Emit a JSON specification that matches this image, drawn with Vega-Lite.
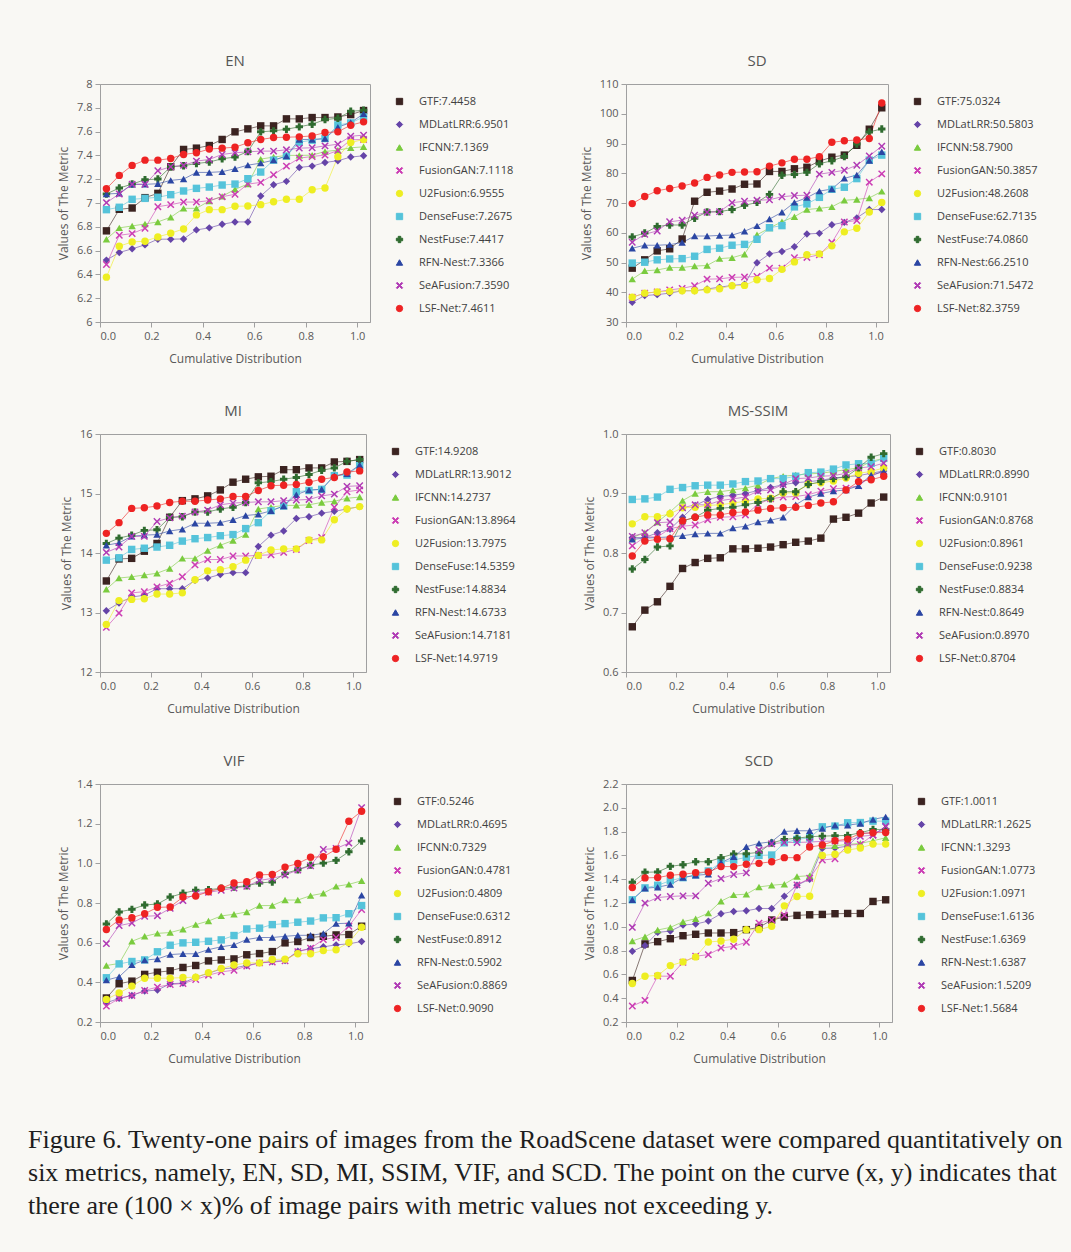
{
"$schema":"https://vega.github.io/schema/vega-lite/v6.json",
"background":"#f9f8f4",
"padding":{"left":28,"top":53,"right":15,"bottom":49},
"datasets":{
"EN":[
{"s":"GTF","x":0.025,"y":6.766},{"s":"GTF","x":0.075,"y":6.947},{"s":"GTF","x":0.125,"y":6.958},{"s":"GTF","x":0.175,"y":7.045},{"s":"GTF","x":0.225,"y":7.081},{"s":"GTF","x":0.275,"y":7.305},{"s":"GTF","x":0.325,"y":7.45},{"s":"GTF","x":0.375,"y":7.461},{"s":"GTF","x":0.425,"y":7.483},{"s":"GTF","x":0.475,"y":7.534},{"s":"GTF","x":0.525,"y":7.598},{"s":"GTF","x":0.575,"y":7.623},{"s":"GTF","x":0.625,"y":7.648},{"s":"GTF","x":0.675,"y":7.648},{"s":"GTF","x":0.725,"y":7.707},{"s":"GTF","x":0.775,"y":7.707},{"s":"GTF","x":0.825,"y":7.718},{"s":"GTF","x":0.875,"y":7.718},{"s":"GTF","x":0.925,"y":7.723},{"s":"GTF","x":0.975,"y":7.743},{"s":"GTF","x":1.025,"y":7.777},
{"s":"MDLatLRR","x":0.025,"y":6.52},{"s":"MDLatLRR","x":0.075,"y":6.584},{"s":"MDLatLRR","x":0.125,"y":6.615},{"s":"MDLatLRR","x":0.175,"y":6.648},{"s":"MDLatLRR","x":0.225,"y":6.696},{"s":"MDLatLRR","x":0.275,"y":6.696},{"s":"MDLatLRR","x":0.325,"y":6.698},{"s":"MDLatLRR","x":0.375,"y":6.774},{"s":"MDLatLRR","x":0.425,"y":6.791},{"s":"MDLatLRR","x":0.475,"y":6.821},{"s":"MDLatLRR","x":0.525,"y":6.841},{"s":"MDLatLRR","x":0.575,"y":6.841},{"s":"MDLatLRR","x":0.625,"y":7.059},{"s":"MDLatLRR","x":0.675,"y":7.154},{"s":"MDLatLRR","x":0.725,"y":7.182},{"s":"MDLatLRR","x":0.775,"y":7.299},{"s":"MDLatLRR","x":0.825,"y":7.31},{"s":"MDLatLRR","x":0.875,"y":7.341},{"s":"MDLatLRR","x":0.925,"y":7.355},{"s":"MDLatLRR","x":0.975,"y":7.386},{"s":"MDLatLRR","x":1.025,"y":7.397},
{"s":"IFCNN","x":0.025,"y":6.696},{"s":"IFCNN","x":0.075,"y":6.791},{"s":"IFCNN","x":0.125,"y":6.807},{"s":"IFCNN","x":0.175,"y":6.824},{"s":"IFCNN","x":0.225,"y":6.841},{"s":"IFCNN","x":0.275,"y":6.88},{"s":"IFCNN","x":0.325,"y":6.955},{"s":"IFCNN","x":0.375,"y":6.955},{"s":"IFCNN","x":0.425,"y":7.017},{"s":"IFCNN","x":0.475,"y":7.056},{"s":"IFCNN","x":0.525,"y":7.115},{"s":"IFCNN","x":0.575,"y":7.159},{"s":"IFCNN","x":0.625,"y":7.369},{"s":"IFCNN","x":0.675,"y":7.386},{"s":"IFCNN","x":0.725,"y":7.4},{"s":"IFCNN","x":0.775,"y":7.4},{"s":"IFCNN","x":0.825,"y":7.402},{"s":"IFCNN","x":0.875,"y":7.433},{"s":"IFCNN","x":0.925,"y":7.444},{"s":"IFCNN","x":0.975,"y":7.464},{"s":"IFCNN","x":1.025,"y":7.472},
{"s":"FusionGAN","x":0.025,"y":6.483},{"s":"FusionGAN","x":0.075,"y":6.729},{"s":"FusionGAN","x":0.125,"y":6.743},{"s":"FusionGAN","x":0.175,"y":6.788},{"s":"FusionGAN","x":0.225,"y":6.969},{"s":"FusionGAN","x":0.275,"y":6.986},{"s":"FusionGAN","x":0.325,"y":7.008},{"s":"FusionGAN","x":0.375,"y":7.008},{"s":"FusionGAN","x":0.425,"y":7.02},{"s":"FusionGAN","x":0.475,"y":7.053},{"s":"FusionGAN","x":0.525,"y":7.073},{"s":"FusionGAN","x":0.575,"y":7.159},{"s":"FusionGAN","x":0.625,"y":7.173},{"s":"FusionGAN","x":0.675,"y":7.238},{"s":"FusionGAN","x":0.725,"y":7.31},{"s":"FusionGAN","x":0.775,"y":7.377},{"s":"FusionGAN","x":0.825,"y":7.391},{"s":"FusionGAN","x":0.875,"y":7.402},{"s":"FusionGAN","x":0.925,"y":7.441},{"s":"FusionGAN","x":0.975,"y":7.531},{"s":"FusionGAN","x":1.025,"y":7.534},
{"s":"U2Fusion","x":0.025,"y":6.377},{"s":"U2Fusion","x":0.075,"y":6.637},{"s":"U2Fusion","x":0.125,"y":6.673},{"s":"U2Fusion","x":0.175,"y":6.679},{"s":"U2Fusion","x":0.225,"y":6.715},{"s":"U2Fusion","x":0.275,"y":6.746},{"s":"U2Fusion","x":0.325,"y":6.782},{"s":"U2Fusion","x":0.375,"y":6.9},{"s":"U2Fusion","x":0.425,"y":6.944},{"s":"U2Fusion","x":0.475,"y":6.944},{"s":"U2Fusion","x":0.525,"y":6.972},{"s":"U2Fusion","x":0.575,"y":6.975},{"s":"U2Fusion","x":0.625,"y":6.986},{"s":"U2Fusion","x":0.675,"y":7.011},{"s":"U2Fusion","x":0.725,"y":7.031},{"s":"U2Fusion","x":0.775,"y":7.031},{"s":"U2Fusion","x":0.825,"y":7.112},{"s":"U2Fusion","x":0.875,"y":7.126},{"s":"U2Fusion","x":0.925,"y":7.388},{"s":"U2Fusion","x":0.975,"y":7.508},{"s":"U2Fusion","x":1.025,"y":7.534},
{"s":"DenseFuse","x":0.025,"y":6.944},{"s":"DenseFuse","x":0.075,"y":6.964},{"s":"DenseFuse","x":0.125,"y":7.031},{"s":"DenseFuse","x":0.175,"y":7.039},{"s":"DenseFuse","x":0.225,"y":7.048},{"s":"DenseFuse","x":0.275,"y":7.07},{"s":"DenseFuse","x":0.325,"y":7.101},{"s":"DenseFuse","x":0.375,"y":7.123},{"s":"DenseFuse","x":0.425,"y":7.134},{"s":"DenseFuse","x":0.475,"y":7.151},{"s":"DenseFuse","x":0.525,"y":7.159},{"s":"DenseFuse","x":0.575,"y":7.204},{"s":"DenseFuse","x":0.625,"y":7.26},{"s":"DenseFuse","x":0.675,"y":7.36},{"s":"DenseFuse","x":0.725,"y":7.394},{"s":"DenseFuse","x":0.775,"y":7.511},{"s":"DenseFuse","x":0.825,"y":7.528},{"s":"DenseFuse","x":0.875,"y":7.542},{"s":"DenseFuse","x":0.925,"y":7.656},{"s":"DenseFuse","x":0.975,"y":7.673},{"s":"DenseFuse","x":1.025,"y":7.723},
{"s":"NestFuse","x":0.025,"y":7.076},{"s":"NestFuse","x":0.075,"y":7.126},{"s":"NestFuse","x":0.125,"y":7.159},{"s":"NestFuse","x":0.175,"y":7.196},{"s":"NestFuse","x":0.225,"y":7.201},{"s":"NestFuse","x":0.275,"y":7.305},{"s":"NestFuse","x":0.325,"y":7.313},{"s":"NestFuse","x":0.375,"y":7.332},{"s":"NestFuse","x":0.425,"y":7.344},{"s":"NestFuse","x":0.475,"y":7.372},{"s":"NestFuse","x":0.525,"y":7.386},{"s":"NestFuse","x":0.575,"y":7.433},{"s":"NestFuse","x":0.625,"y":7.598},{"s":"NestFuse","x":0.675,"y":7.606},{"s":"NestFuse","x":0.725,"y":7.62},{"s":"NestFuse","x":0.775,"y":7.64},{"s":"NestFuse","x":0.825,"y":7.662},{"s":"NestFuse","x":0.875,"y":7.701},{"s":"NestFuse","x":0.925,"y":7.712},{"s":"NestFuse","x":0.975,"y":7.771},{"s":"NestFuse","x":1.025,"y":7.779},
{"s":"RFN-Nest","x":0.025,"y":7.076},{"s":"RFN-Nest","x":0.075,"y":7.081},{"s":"RFN-Nest","x":0.125,"y":7.157},{"s":"RFN-Nest","x":0.175,"y":7.157},{"s":"RFN-Nest","x":0.225,"y":7.162},{"s":"RFN-Nest","x":0.275,"y":7.19},{"s":"RFN-Nest","x":0.325,"y":7.201},{"s":"RFN-Nest","x":0.375,"y":7.257},{"s":"RFN-Nest","x":0.425,"y":7.257},{"s":"RFN-Nest","x":0.475,"y":7.263},{"s":"RFN-Nest","x":0.525,"y":7.288},{"s":"RFN-Nest","x":0.575,"y":7.318},{"s":"RFN-Nest","x":0.625,"y":7.335},{"s":"RFN-Nest","x":0.675,"y":7.36},{"s":"RFN-Nest","x":0.725,"y":7.394},{"s":"RFN-Nest","x":0.775,"y":7.534},{"s":"RFN-Nest","x":0.825,"y":7.534},{"s":"RFN-Nest","x":0.875,"y":7.542},{"s":"RFN-Nest","x":0.925,"y":7.637},{"s":"RFN-Nest","x":0.975,"y":7.676},{"s":"RFN-Nest","x":1.025,"y":7.749},
{"s":"SeAFusion","x":0.025,"y":7.003},{"s":"SeAFusion","x":0.075,"y":7.076},{"s":"SeAFusion","x":0.125,"y":7.157},{"s":"SeAFusion","x":0.175,"y":7.157},{"s":"SeAFusion","x":0.225,"y":7.271},{"s":"SeAFusion","x":0.275,"y":7.305},{"s":"SeAFusion","x":0.325,"y":7.316},{"s":"SeAFusion","x":0.375,"y":7.352},{"s":"SeAFusion","x":0.425,"y":7.366},{"s":"SeAFusion","x":0.475,"y":7.408},{"s":"SeAFusion","x":0.525,"y":7.422},{"s":"SeAFusion","x":0.575,"y":7.43},{"s":"SeAFusion","x":0.625,"y":7.436},{"s":"SeAFusion","x":0.675,"y":7.436},{"s":"SeAFusion","x":0.725,"y":7.447},{"s":"SeAFusion","x":0.775,"y":7.461},{"s":"SeAFusion","x":0.825,"y":7.464},{"s":"SeAFusion","x":0.875,"y":7.48},{"s":"SeAFusion","x":0.925,"y":7.494},{"s":"SeAFusion","x":0.975,"y":7.561},{"s":"SeAFusion","x":1.025,"y":7.57},
{"s":"LSF-Net","x":0.025,"y":7.12},{"s":"LSF-Net","x":0.075,"y":7.232},{"s":"LSF-Net","x":0.125,"y":7.316},{"s":"LSF-Net","x":0.175,"y":7.36},{"s":"LSF-Net","x":0.225,"y":7.36},{"s":"LSF-Net","x":0.275,"y":7.374},{"s":"LSF-Net","x":0.325,"y":7.408},{"s":"LSF-Net","x":0.375,"y":7.422},{"s":"LSF-Net","x":0.425,"y":7.453},{"s":"LSF-Net","x":0.475,"y":7.461},{"s":"LSF-Net","x":0.525,"y":7.469},{"s":"LSF-Net","x":0.575,"y":7.506},{"s":"LSF-Net","x":0.625,"y":7.534},{"s":"LSF-Net","x":0.675,"y":7.55},{"s":"LSF-Net","x":0.725,"y":7.553},{"s":"LSF-Net","x":0.775,"y":7.556},{"s":"LSF-Net","x":0.825,"y":7.564},{"s":"LSF-Net","x":0.875,"y":7.592},{"s":"LSF-Net","x":0.925,"y":7.598},{"s":"LSF-Net","x":0.975,"y":7.654},{"s":"LSF-Net","x":1.025,"y":7.682}
],
"SD":[
{"s":"GTF","x":0.025,"y":48.1},{"s":"GTF","x":0.075,"y":50.9},{"s":"GTF","x":0.125,"y":53.9},{"s":"GTF","x":0.175,"y":54.6},{"s":"GTF","x":0.225,"y":57.9},{"s":"GTF","x":0.275,"y":70.6},{"s":"GTF","x":0.325,"y":73.6},{"s":"GTF","x":0.375,"y":74.0},{"s":"GTF","x":0.425,"y":74.7},{"s":"GTF","x":0.475,"y":76.3},{"s":"GTF","x":0.525,"y":76.4},{"s":"GTF","x":0.575,"y":80.6},{"s":"GTF","x":0.625,"y":80.6},{"s":"GTF","x":0.675,"y":81.5},{"s":"GTF","x":0.725,"y":82.0},{"s":"GTF","x":0.775,"y":84.1},{"s":"GTF","x":0.825,"y":85.4},{"s":"GTF","x":0.875,"y":86.1},{"s":"GTF","x":0.925,"y":89.4},{"s":"GTF","x":0.975,"y":94.8},{"s":"GTF","x":1.025,"y":102.0},
{"s":"MDLatLRR","x":0.025,"y":36.6},{"s":"MDLatLRR","x":0.075,"y":38.9},{"s":"MDLatLRR","x":0.125,"y":39.2},{"s":"MDLatLRR","x":0.175,"y":39.7},{"s":"MDLatLRR","x":0.225,"y":40.5},{"s":"MDLatLRR","x":0.275,"y":40.5},{"s":"MDLatLRR","x":0.325,"y":41.1},{"s":"MDLatLRR","x":0.375,"y":41.7},{"s":"MDLatLRR","x":0.425,"y":42.3},{"s":"MDLatLRR","x":0.475,"y":42.7},{"s":"MDLatLRR","x":0.525,"y":49.9},{"s":"MDLatLRR","x":0.575,"y":52.9},{"s":"MDLatLRR","x":0.625,"y":53.7},{"s":"MDLatLRR","x":0.675,"y":55.3},{"s":"MDLatLRR","x":0.725,"y":59.6},{"s":"MDLatLRR","x":0.775,"y":59.8},{"s":"MDLatLRR","x":0.825,"y":62.7},{"s":"MDLatLRR","x":0.875,"y":63.5},{"s":"MDLatLRR","x":0.925,"y":65.0},{"s":"MDLatLRR","x":0.975,"y":67.8},{"s":"MDLatLRR","x":1.025,"y":67.8},
{"s":"IFCNN","x":0.025,"y":44.4},{"s":"IFCNN","x":0.075,"y":47.2},{"s":"IFCNN","x":0.125,"y":47.5},{"s":"IFCNN","x":0.175,"y":48.3},{"s":"IFCNN","x":0.225,"y":48.3},{"s":"IFCNN","x":0.275,"y":48.8},{"s":"IFCNN","x":0.325,"y":49.0},{"s":"IFCNN","x":0.375,"y":51.3},{"s":"IFCNN","x":0.425,"y":51.6},{"s":"IFCNN","x":0.475,"y":52.8},{"s":"IFCNN","x":0.525,"y":59.3},{"s":"IFCNN","x":0.575,"y":61.6},{"s":"IFCNN","x":0.625,"y":63.7},{"s":"IFCNN","x":0.675,"y":65.4},{"s":"IFCNN","x":0.725,"y":67.8},{"s":"IFCNN","x":0.775,"y":68.2},{"s":"IFCNN","x":0.825,"y":68.7},{"s":"IFCNN","x":0.875,"y":70.9},{"s":"IFCNN","x":0.925,"y":71.2},{"s":"IFCNN","x":0.975,"y":71.7},{"s":"IFCNN","x":1.025,"y":73.9},
{"s":"FusionGAN","x":0.025,"y":38.3},{"s":"FusionGAN","x":0.075,"y":39.7},{"s":"FusionGAN","x":0.125,"y":40.1},{"s":"FusionGAN","x":0.175,"y":40.8},{"s":"FusionGAN","x":0.225,"y":41.3},{"s":"FusionGAN","x":0.275,"y":42.2},{"s":"FusionGAN","x":0.325,"y":44.4},{"s":"FusionGAN","x":0.375,"y":44.5},{"s":"FusionGAN","x":0.425,"y":45.0},{"s":"FusionGAN","x":0.475,"y":45.1},{"s":"FusionGAN","x":0.525,"y":45.3},{"s":"FusionGAN","x":0.575,"y":48.1},{"s":"FusionGAN","x":0.625,"y":48.1},{"s":"FusionGAN","x":0.675,"y":51.6},{"s":"FusionGAN","x":0.725,"y":51.7},{"s":"FusionGAN","x":0.775,"y":52.6},{"s":"FusionGAN","x":0.825,"y":56.7},{"s":"FusionGAN","x":0.875,"y":63.6},{"s":"FusionGAN","x":0.925,"y":64.1},{"s":"FusionGAN","x":0.975,"y":77.0},{"s":"FusionGAN","x":1.025,"y":79.8},
{"s":"U2Fusion","x":0.025,"y":38.3},{"s":"U2Fusion","x":0.075,"y":39.7},{"s":"U2Fusion","x":0.125,"y":40.1},{"s":"U2Fusion","x":0.175,"y":40.3},{"s":"U2Fusion","x":0.225,"y":40.5},{"s":"U2Fusion","x":0.275,"y":40.5},{"s":"U2Fusion","x":0.325,"y":40.8},{"s":"U2Fusion","x":0.375,"y":41.2},{"s":"U2Fusion","x":0.425,"y":42.2},{"s":"U2Fusion","x":0.475,"y":42.3},{"s":"U2Fusion","x":0.525,"y":44.2},{"s":"U2Fusion","x":0.575,"y":44.6},{"s":"U2Fusion","x":0.625,"y":47.7},{"s":"U2Fusion","x":0.675,"y":50.2},{"s":"U2Fusion","x":0.725,"y":52.6},{"s":"U2Fusion","x":0.775,"y":52.9},{"s":"U2Fusion","x":0.825,"y":55.6},{"s":"U2Fusion","x":0.875,"y":60.3},{"s":"U2Fusion","x":0.925,"y":61.5},{"s":"U2Fusion","x":0.975,"y":67.0},{"s":"U2Fusion","x":1.025,"y":70.2},
{"s":"DenseFuse","x":0.025,"y":49.8},{"s":"DenseFuse","x":0.075,"y":50.1},{"s":"DenseFuse","x":0.125,"y":50.9},{"s":"DenseFuse","x":0.175,"y":51.2},{"s":"DenseFuse","x":0.225,"y":51.3},{"s":"DenseFuse","x":0.275,"y":52.1},{"s":"DenseFuse","x":0.325,"y":54.4},{"s":"DenseFuse","x":0.375,"y":54.8},{"s":"DenseFuse","x":0.425,"y":55.8},{"s":"DenseFuse","x":0.475,"y":56.1},{"s":"DenseFuse","x":0.525,"y":57.8},{"s":"DenseFuse","x":0.575,"y":61.7},{"s":"DenseFuse","x":0.625,"y":62.4},{"s":"DenseFuse","x":0.675,"y":68.7},{"s":"DenseFuse","x":0.725,"y":69.7},{"s":"DenseFuse","x":0.775,"y":71.9},{"s":"DenseFuse","x":0.825,"y":74.6},{"s":"DenseFuse","x":0.875,"y":75.3},{"s":"DenseFuse","x":0.925,"y":78.2},{"s":"DenseFuse","x":0.975,"y":84.4},{"s":"DenseFuse","x":1.025,"y":86.1},
{"s":"NestFuse","x":0.025,"y":58.6},{"s":"NestFuse","x":0.075,"y":59.9},{"s":"NestFuse","x":0.125,"y":62.1},{"s":"NestFuse","x":0.175,"y":62.6},{"s":"NestFuse","x":0.225,"y":62.6},{"s":"NestFuse","x":0.275,"y":64.9},{"s":"NestFuse","x":0.325,"y":67.0},{"s":"NestFuse","x":0.375,"y":67.1},{"s":"NestFuse","x":0.425,"y":67.8},{"s":"NestFuse","x":0.475,"y":69.2},{"s":"NestFuse","x":0.525,"y":70.2},{"s":"NestFuse","x":0.575,"y":72.9},{"s":"NestFuse","x":0.625,"y":79.3},{"s":"NestFuse","x":0.675,"y":79.6},{"s":"NestFuse","x":0.725,"y":80.3},{"s":"NestFuse","x":0.775,"y":83.2},{"s":"NestFuse","x":0.825,"y":84.2},{"s":"NestFuse","x":0.875,"y":85.6},{"s":"NestFuse","x":0.925,"y":89.8},{"s":"NestFuse","x":0.975,"y":93.9},{"s":"NestFuse","x":1.025,"y":94.9},
{"s":"RFN-Nest","x":0.025,"y":54.8},{"s":"RFN-Nest","x":0.075,"y":55.8},{"s":"RFN-Nest","x":0.125,"y":55.8},{"s":"RFN-Nest","x":0.175,"y":56.0},{"s":"RFN-Nest","x":0.225,"y":56.7},{"s":"RFN-Nest","x":0.275,"y":58.9},{"s":"RFN-Nest","x":0.325,"y":58.9},{"s":"RFN-Nest","x":0.375,"y":59.1},{"s":"RFN-Nest","x":0.425,"y":59.2},{"s":"RFN-Nest","x":0.475,"y":60.5},{"s":"RFN-Nest","x":0.525,"y":62.3},{"s":"RFN-Nest","x":0.575,"y":64.6},{"s":"RFN-Nest","x":0.625,"y":66.9},{"s":"RFN-Nest","x":0.675,"y":70.2},{"s":"RFN-Nest","x":0.725,"y":71.8},{"s":"RFN-Nest","x":0.775,"y":74.0},{"s":"RFN-Nest","x":0.825,"y":74.7},{"s":"RFN-Nest","x":0.875,"y":78.3},{"s":"RFN-Nest","x":0.925,"y":79.4},{"s":"RFN-Nest","x":0.975,"y":84.3},{"s":"RFN-Nest","x":1.025,"y":87.2},
{"s":"SeAFusion","x":0.025,"y":56.8},{"s":"SeAFusion","x":0.075,"y":59.5},{"s":"SeAFusion","x":0.125,"y":60.6},{"s":"SeAFusion","x":0.175,"y":63.7},{"s":"SeAFusion","x":0.225,"y":64.2},{"s":"SeAFusion","x":0.275,"y":65.9},{"s":"SeAFusion","x":0.325,"y":66.9},{"s":"SeAFusion","x":0.375,"y":67.1},{"s":"SeAFusion","x":0.425,"y":70.1},{"s":"SeAFusion","x":0.475,"y":70.6},{"s":"SeAFusion","x":0.525,"y":70.9},{"s":"SeAFusion","x":0.575,"y":71.1},{"s":"SeAFusion","x":0.625,"y":72.1},{"s":"SeAFusion","x":0.675,"y":72.5},{"s":"SeAFusion","x":0.725,"y":72.6},{"s":"SeAFusion","x":0.775,"y":79.7},{"s":"SeAFusion","x":0.825,"y":80.3},{"s":"SeAFusion","x":0.875,"y":81.0},{"s":"SeAFusion","x":0.925,"y":82.7},{"s":"SeAFusion","x":0.975,"y":85.8},{"s":"SeAFusion","x":1.025,"y":89.1},
{"s":"LSF-Net","x":0.025,"y":69.8},{"s":"LSF-Net","x":0.075,"y":72.2},{"s":"LSF-Net","x":0.125,"y":74.1},{"s":"LSF-Net","x":0.175,"y":74.9},{"s":"LSF-Net","x":0.225,"y":75.7},{"s":"LSF-Net","x":0.275,"y":76.7},{"s":"LSF-Net","x":0.325,"y":78.6},{"s":"LSF-Net","x":0.375,"y":79.4},{"s":"LSF-Net","x":0.425,"y":80.3},{"s":"LSF-Net","x":0.475,"y":80.4},{"s":"LSF-Net","x":0.525,"y":80.5},{"s":"LSF-Net","x":0.575,"y":82.4},{"s":"LSF-Net","x":0.625,"y":83.5},{"s":"LSF-Net","x":0.675,"y":84.7},{"s":"LSF-Net","x":0.725,"y":84.7},{"s":"LSF-Net","x":0.775,"y":85.6},{"s":"LSF-Net","x":0.825,"y":90.4},{"s":"LSF-Net","x":0.875,"y":90.9},{"s":"LSF-Net","x":0.925,"y":91.2},{"s":"LSF-Net","x":0.975,"y":91.7},{"s":"LSF-Net","x":1.025,"y":103.6}
],
"MI":[
{"s":"GTF","x":0.025,"y":13.53},{"s":"GTF","x":0.075,"y":13.9},{"s":"GTF","x":0.125,"y":13.91},{"s":"GTF","x":0.175,"y":14.03},{"s":"GTF","x":0.225,"y":14.16},{"s":"GTF","x":0.275,"y":14.6},{"s":"GTF","x":0.325,"y":14.88},{"s":"GTF","x":0.375,"y":14.91},{"s":"GTF","x":0.425,"y":14.96},{"s":"GTF","x":0.475,"y":15.06},{"s":"GTF","x":0.525,"y":15.19},{"s":"GTF","x":0.575,"y":15.24},{"s":"GTF","x":0.625,"y":15.28},{"s":"GTF","x":0.675,"y":15.29},{"s":"GTF","x":0.725,"y":15.4},{"s":"GTF","x":0.775,"y":15.4},{"s":"GTF","x":0.825,"y":15.43},{"s":"GTF","x":0.875,"y":15.43},{"s":"GTF","x":0.925,"y":15.53},{"s":"GTF","x":0.975,"y":15.54},{"s":"GTF","x":1.025,"y":15.57},
{"s":"MDLatLRR","x":0.025,"y":13.03},{"s":"MDLatLRR","x":0.075,"y":13.16},{"s":"MDLatLRR","x":0.125,"y":13.26},{"s":"MDLatLRR","x":0.175,"y":13.29},{"s":"MDLatLRR","x":0.225,"y":13.4},{"s":"MDLatLRR","x":0.275,"y":13.4},{"s":"MDLatLRR","x":0.325,"y":13.4},{"s":"MDLatLRR","x":0.375,"y":13.54},{"s":"MDLatLRR","x":0.425,"y":13.58},{"s":"MDLatLRR","x":0.475,"y":13.64},{"s":"MDLatLRR","x":0.525,"y":13.67},{"s":"MDLatLRR","x":0.575,"y":13.67},{"s":"MDLatLRR","x":0.625,"y":14.11},{"s":"MDLatLRR","x":0.675,"y":14.3},{"s":"MDLatLRR","x":0.725,"y":14.37},{"s":"MDLatLRR","x":0.775,"y":14.58},{"s":"MDLatLRR","x":0.825,"y":14.61},{"s":"MDLatLRR","x":0.875,"y":14.67},{"s":"MDLatLRR","x":0.925,"y":14.7},{"s":"MDLatLRR","x":0.975,"y":14.74},{"s":"MDLatLRR","x":1.025,"y":14.78},
{"s":"IFCNN","x":0.025,"y":13.39},{"s":"IFCNN","x":0.075,"y":13.58},{"s":"IFCNN","x":0.125,"y":13.6},{"s":"IFCNN","x":0.175,"y":13.63},{"s":"IFCNN","x":0.225,"y":13.66},{"s":"IFCNN","x":0.275,"y":13.74},{"s":"IFCNN","x":0.325,"y":13.91},{"s":"IFCNN","x":0.375,"y":13.91},{"s":"IFCNN","x":0.425,"y":14.04},{"s":"IFCNN","x":0.475,"y":14.13},{"s":"IFCNN","x":0.525,"y":14.21},{"s":"IFCNN","x":0.575,"y":14.31},{"s":"IFCNN","x":0.625,"y":14.74},{"s":"IFCNN","x":0.675,"y":14.77},{"s":"IFCNN","x":0.725,"y":14.8},{"s":"IFCNN","x":0.775,"y":14.8},{"s":"IFCNN","x":0.825,"y":14.81},{"s":"IFCNN","x":0.875,"y":14.85},{"s":"IFCNN","x":0.925,"y":14.87},{"s":"IFCNN","x":0.975,"y":14.92},{"s":"IFCNN","x":1.025,"y":14.94},
{"s":"FusionGAN","x":0.025,"y":12.75},{"s":"FusionGAN","x":0.075,"y":12.99},{"s":"FusionGAN","x":0.125,"y":13.33},{"s":"FusionGAN","x":0.175,"y":13.35},{"s":"FusionGAN","x":0.225,"y":13.43},{"s":"FusionGAN","x":0.275,"y":13.49},{"s":"FusionGAN","x":0.325,"y":13.6},{"s":"FusionGAN","x":0.375,"y":13.8},{"s":"FusionGAN","x":0.425,"y":13.89},{"s":"FusionGAN","x":0.475,"y":13.89},{"s":"FusionGAN","x":0.525,"y":13.95},{"s":"FusionGAN","x":0.575,"y":13.95},{"s":"FusionGAN","x":0.625,"y":13.96},{"s":"FusionGAN","x":0.675,"y":13.97},{"s":"FusionGAN","x":0.725,"y":14.01},{"s":"FusionGAN","x":0.775,"y":14.06},{"s":"FusionGAN","x":0.825,"y":14.21},{"s":"FusionGAN","x":0.875,"y":14.26},{"s":"FusionGAN","x":0.925,"y":14.77},{"s":"FusionGAN","x":0.975,"y":15.03},{"s":"FusionGAN","x":1.025,"y":15.06},
{"s":"U2Fusion","x":0.025,"y":12.8},{"s":"U2Fusion","x":0.075,"y":13.2},{"s":"U2Fusion","x":0.125,"y":13.22},{"s":"U2Fusion","x":0.175,"y":13.23},{"s":"U2Fusion","x":0.225,"y":13.31},{"s":"U2Fusion","x":0.275,"y":13.31},{"s":"U2Fusion","x":0.325,"y":13.33},{"s":"U2Fusion","x":0.375,"y":13.55},{"s":"U2Fusion","x":0.425,"y":13.7},{"s":"U2Fusion","x":0.475,"y":13.72},{"s":"U2Fusion","x":0.525,"y":13.77},{"s":"U2Fusion","x":0.575,"y":13.88},{"s":"U2Fusion","x":0.625,"y":13.96},{"s":"U2Fusion","x":0.675,"y":14.05},{"s":"U2Fusion","x":0.725,"y":14.07},{"s":"U2Fusion","x":0.775,"y":14.07},{"s":"U2Fusion","x":0.825,"y":14.22},{"s":"U2Fusion","x":0.875,"y":14.22},{"s":"U2Fusion","x":0.925,"y":14.56},{"s":"U2Fusion","x":0.975,"y":14.74},{"s":"U2Fusion","x":1.025,"y":14.78},
{"s":"DenseFuse","x":0.025,"y":13.88},{"s":"DenseFuse","x":0.075,"y":13.92},{"s":"DenseFuse","x":0.125,"y":14.06},{"s":"DenseFuse","x":0.175,"y":14.08},{"s":"DenseFuse","x":0.225,"y":14.1},{"s":"DenseFuse","x":0.275,"y":14.13},{"s":"DenseFuse","x":0.325,"y":14.2},{"s":"DenseFuse","x":0.375,"y":14.24},{"s":"DenseFuse","x":0.425,"y":14.26},{"s":"DenseFuse","x":0.475,"y":14.29},{"s":"DenseFuse","x":0.525,"y":14.31},{"s":"DenseFuse","x":0.575,"y":14.41},{"s":"DenseFuse","x":0.625,"y":14.51},{"s":"DenseFuse","x":0.675,"y":14.71},{"s":"DenseFuse","x":0.725,"y":14.79},{"s":"DenseFuse","x":0.775,"y":15.03},{"s":"DenseFuse","x":0.825,"y":15.05},{"s":"DenseFuse","x":0.875,"y":15.07},{"s":"DenseFuse","x":0.925,"y":15.3},{"s":"DenseFuse","x":0.975,"y":15.31},{"s":"DenseFuse","x":1.025,"y":15.47},
{"s":"NestFuse","x":0.025,"y":14.16},{"s":"NestFuse","x":0.075,"y":14.25},{"s":"NestFuse","x":0.125,"y":14.3},{"s":"NestFuse","x":0.175,"y":14.38},{"s":"NestFuse","x":0.225,"y":14.39},{"s":"NestFuse","x":0.275,"y":14.6},{"s":"NestFuse","x":0.325,"y":14.61},{"s":"NestFuse","x":0.375,"y":14.69},{"s":"NestFuse","x":0.425,"y":14.69},{"s":"NestFuse","x":0.475,"y":14.74},{"s":"NestFuse","x":0.525,"y":14.77},{"s":"NestFuse","x":0.575,"y":14.85},{"s":"NestFuse","x":0.625,"y":15.18},{"s":"NestFuse","x":0.675,"y":15.2},{"s":"NestFuse","x":0.725,"y":15.24},{"s":"NestFuse","x":0.775,"y":15.27},{"s":"NestFuse","x":0.825,"y":15.32},{"s":"NestFuse","x":0.875,"y":15.39},{"s":"NestFuse","x":0.925,"y":15.43},{"s":"NestFuse","x":0.975,"y":15.54},{"s":"NestFuse","x":1.025,"y":15.57},
{"s":"RFN-Nest","x":0.025,"y":14.13},{"s":"RFN-Nest","x":0.075,"y":14.17},{"s":"RFN-Nest","x":0.125,"y":14.28},{"s":"RFN-Nest","x":0.175,"y":14.3},{"s":"RFN-Nest","x":0.225,"y":14.31},{"s":"RFN-Nest","x":0.275,"y":14.37},{"s":"RFN-Nest","x":0.325,"y":14.4},{"s":"RFN-Nest","x":0.375,"y":14.5},{"s":"RFN-Nest","x":0.425,"y":14.5},{"s":"RFN-Nest","x":0.475,"y":14.51},{"s":"RFN-Nest","x":0.525,"y":14.56},{"s":"RFN-Nest","x":0.575,"y":14.63},{"s":"RFN-Nest","x":0.625,"y":14.65},{"s":"RFN-Nest","x":0.675,"y":14.71},{"s":"RFN-Nest","x":0.725,"y":14.79},{"s":"RFN-Nest","x":0.775,"y":14.98},{"s":"RFN-Nest","x":0.825,"y":15.06},{"s":"RFN-Nest","x":0.875,"y":15.07},{"s":"RFN-Nest","x":0.925,"y":15.3},{"s":"RFN-Nest","x":0.975,"y":15.33},{"s":"RFN-Nest","x":1.025,"y":15.48},
{"s":"SeAFusion","x":0.025,"y":14.01},{"s":"SeAFusion","x":0.075,"y":14.1},{"s":"SeAFusion","x":0.125,"y":14.28},{"s":"SeAFusion","x":0.175,"y":14.28},{"s":"SeAFusion","x":0.225,"y":14.53},{"s":"SeAFusion","x":0.275,"y":14.59},{"s":"SeAFusion","x":0.325,"y":14.62},{"s":"SeAFusion","x":0.375,"y":14.69},{"s":"SeAFusion","x":0.425,"y":14.72},{"s":"SeAFusion","x":0.475,"y":14.81},{"s":"SeAFusion","x":0.525,"y":14.84},{"s":"SeAFusion","x":0.575,"y":14.85},{"s":"SeAFusion","x":0.625,"y":14.86},{"s":"SeAFusion","x":0.675,"y":14.86},{"s":"SeAFusion","x":0.725,"y":14.88},{"s":"SeAFusion","x":0.775,"y":14.89},{"s":"SeAFusion","x":0.825,"y":14.9},{"s":"SeAFusion","x":0.875,"y":14.96},{"s":"SeAFusion","x":0.925,"y":14.99},{"s":"SeAFusion","x":0.975,"y":15.12},{"s":"SeAFusion","x":1.025,"y":15.13},
{"s":"LSF-Net","x":0.025,"y":14.33},{"s":"LSF-Net","x":0.075,"y":14.51},{"s":"LSF-Net","x":0.125,"y":14.75},{"s":"LSF-Net","x":0.175,"y":14.76},{"s":"LSF-Net","x":0.225,"y":14.79},{"s":"LSF-Net","x":0.275,"y":14.85},{"s":"LSF-Net","x":0.325,"y":14.87},{"s":"LSF-Net","x":0.375,"y":14.87},{"s":"LSF-Net","x":0.425,"y":14.89},{"s":"LSF-Net","x":0.475,"y":14.91},{"s":"LSF-Net","x":0.525,"y":14.95},{"s":"LSF-Net","x":0.575,"y":14.95},{"s":"LSF-Net","x":0.625,"y":15.05},{"s":"LSF-Net","x":0.675,"y":15.13},{"s":"LSF-Net","x":0.725,"y":15.14},{"s":"LSF-Net","x":0.775,"y":15.15},{"s":"LSF-Net","x":0.825,"y":15.19},{"s":"LSF-Net","x":0.875,"y":15.24},{"s":"LSF-Net","x":0.925,"y":15.27},{"s":"LSF-Net","x":0.975,"y":15.36},{"s":"LSF-Net","x":1.025,"y":15.38}
],
"MSSSIM":[
{"s":"GTF","x":0.025,"y":0.676},{"s":"GTF","x":0.075,"y":0.704},{"s":"GTF","x":0.125,"y":0.718},{"s":"GTF","x":0.175,"y":0.744},{"s":"GTF","x":0.225,"y":0.774},{"s":"GTF","x":0.275,"y":0.784},{"s":"GTF","x":0.325,"y":0.791},{"s":"GTF","x":0.375,"y":0.792},{"s":"GTF","x":0.425,"y":0.807},{"s":"GTF","x":0.475,"y":0.807},{"s":"GTF","x":0.525,"y":0.808},{"s":"GTF","x":0.575,"y":0.81},{"s":"GTF","x":0.625,"y":0.814},{"s":"GTF","x":0.675,"y":0.818},{"s":"GTF","x":0.725,"y":0.82},{"s":"GTF","x":0.775,"y":0.825},{"s":"GTF","x":0.825,"y":0.857},{"s":"GTF","x":0.875,"y":0.86},{"s":"GTF","x":0.925,"y":0.867},{"s":"GTF","x":0.975,"y":0.884},{"s":"GTF","x":1.025,"y":0.894},
{"s":"MDLatLRR","x":0.025,"y":0.826},{"s":"MDLatLRR","x":0.075,"y":0.826},{"s":"MDLatLRR","x":0.125,"y":0.834},{"s":"MDLatLRR","x":0.175,"y":0.84},{"s":"MDLatLRR","x":0.225,"y":0.86},{"s":"MDLatLRR","x":0.275,"y":0.88},{"s":"MDLatLRR","x":0.325,"y":0.89},{"s":"MDLatLRR","x":0.375,"y":0.895},{"s":"MDLatLRR","x":0.425,"y":0.897},{"s":"MDLatLRR","x":0.475,"y":0.9},{"s":"MDLatLRR","x":0.525,"y":0.905},{"s":"MDLatLRR","x":0.575,"y":0.91},{"s":"MDLatLRR","x":0.625,"y":0.915},{"s":"MDLatLRR","x":0.675,"y":0.918},{"s":"MDLatLRR","x":0.725,"y":0.92},{"s":"MDLatLRR","x":0.775,"y":0.922},{"s":"MDLatLRR","x":0.825,"y":0.926},{"s":"MDLatLRR","x":0.875,"y":0.928},{"s":"MDLatLRR","x":0.925,"y":0.93},{"s":"MDLatLRR","x":0.975,"y":0.934},{"s":"MDLatLRR","x":1.025,"y":0.938},
{"s":"IFCNN","x":0.025,"y":0.826},{"s":"IFCNN","x":0.075,"y":0.834},{"s":"IFCNN","x":0.125,"y":0.852},{"s":"IFCNN","x":0.175,"y":0.869},{"s":"IFCNN","x":0.225,"y":0.888},{"s":"IFCNN","x":0.275,"y":0.9},{"s":"IFCNN","x":0.325,"y":0.903},{"s":"IFCNN","x":0.375,"y":0.903},{"s":"IFCNN","x":0.425,"y":0.906},{"s":"IFCNN","x":0.475,"y":0.909},{"s":"IFCNN","x":0.525,"y":0.914},{"s":"IFCNN","x":0.575,"y":0.925},{"s":"IFCNN","x":0.625,"y":0.929},{"s":"IFCNN","x":0.675,"y":0.931},{"s":"IFCNN","x":0.725,"y":0.933},{"s":"IFCNN","x":0.775,"y":0.934},{"s":"IFCNN","x":0.825,"y":0.937},{"s":"IFCNN","x":0.875,"y":0.94},{"s":"IFCNN","x":0.925,"y":0.943},{"s":"IFCNN","x":0.975,"y":0.954},{"s":"IFCNN","x":1.025,"y":0.959},
{"s":"FusionGAN","x":0.025,"y":0.812},{"s":"FusionGAN","x":0.075,"y":0.827},{"s":"FusionGAN","x":0.125,"y":0.827},{"s":"FusionGAN","x":0.175,"y":0.841},{"s":"FusionGAN","x":0.225,"y":0.845},{"s":"FusionGAN","x":0.275,"y":0.847},{"s":"FusionGAN","x":0.325,"y":0.856},{"s":"FusionGAN","x":0.375,"y":0.86},{"s":"FusionGAN","x":0.425,"y":0.861},{"s":"FusionGAN","x":0.475,"y":0.864},{"s":"FusionGAN","x":0.525,"y":0.882},{"s":"FusionGAN","x":0.575,"y":0.891},{"s":"FusionGAN","x":0.625,"y":0.894},{"s":"FusionGAN","x":0.675,"y":0.895},{"s":"FusionGAN","x":0.725,"y":0.898},{"s":"FusionGAN","x":0.775,"y":0.904},{"s":"FusionGAN","x":0.825,"y":0.908},{"s":"FusionGAN","x":0.875,"y":0.909},{"s":"FusionGAN","x":0.925,"y":0.913},{"s":"FusionGAN","x":0.975,"y":0.929},{"s":"FusionGAN","x":1.025,"y":0.938},
{"s":"U2Fusion","x":0.025,"y":0.849},{"s":"U2Fusion","x":0.075,"y":0.861},{"s":"U2Fusion","x":0.125,"y":0.861},{"s":"U2Fusion","x":0.175,"y":0.866},{"s":"U2Fusion","x":0.225,"y":0.876},{"s":"U2Fusion","x":0.275,"y":0.877},{"s":"U2Fusion","x":0.325,"y":0.88},{"s":"U2Fusion","x":0.375,"y":0.881},{"s":"U2Fusion","x":0.425,"y":0.884},{"s":"U2Fusion","x":0.475,"y":0.887},{"s":"U2Fusion","x":0.525,"y":0.891},{"s":"U2Fusion","x":0.575,"y":0.892},{"s":"U2Fusion","x":0.625,"y":0.901},{"s":"U2Fusion","x":0.675,"y":0.901},{"s":"U2Fusion","x":0.725,"y":0.916},{"s":"U2Fusion","x":0.775,"y":0.918},{"s":"U2Fusion","x":0.825,"y":0.921},{"s":"U2Fusion","x":0.875,"y":0.926},{"s":"U2Fusion","x":0.925,"y":0.934},{"s":"U2Fusion","x":0.975,"y":0.937},{"s":"U2Fusion","x":1.025,"y":0.943},
{"s":"DenseFuse","x":0.025,"y":0.89},{"s":"DenseFuse","x":0.075,"y":0.891},{"s":"DenseFuse","x":0.125,"y":0.894},{"s":"DenseFuse","x":0.175,"y":0.907},{"s":"DenseFuse","x":0.225,"y":0.91},{"s":"DenseFuse","x":0.275,"y":0.913},{"s":"DenseFuse","x":0.325,"y":0.914},{"s":"DenseFuse","x":0.375,"y":0.914},{"s":"DenseFuse","x":0.425,"y":0.916},{"s":"DenseFuse","x":0.475,"y":0.92},{"s":"DenseFuse","x":0.525,"y":0.921},{"s":"DenseFuse","x":0.575,"y":0.925},{"s":"DenseFuse","x":0.625,"y":0.925},{"s":"DenseFuse","x":0.675,"y":0.929},{"s":"DenseFuse","x":0.725,"y":0.935},{"s":"DenseFuse","x":0.775,"y":0.936},{"s":"DenseFuse","x":0.825,"y":0.941},{"s":"DenseFuse","x":0.875,"y":0.948},{"s":"DenseFuse","x":0.925,"y":0.95},{"s":"DenseFuse","x":0.975,"y":0.951},{"s":"DenseFuse","x":1.025,"y":0.959},
{"s":"NestFuse","x":0.025,"y":0.773},{"s":"NestFuse","x":0.075,"y":0.789},{"s":"NestFuse","x":0.125,"y":0.81},{"s":"NestFuse","x":0.175,"y":0.812},{"s":"NestFuse","x":0.225,"y":0.854},{"s":"NestFuse","x":0.275,"y":0.86},{"s":"NestFuse","x":0.325,"y":0.872},{"s":"NestFuse","x":0.375,"y":0.875},{"s":"NestFuse","x":0.425,"y":0.877},{"s":"NestFuse","x":0.475,"y":0.881},{"s":"NestFuse","x":0.525,"y":0.885},{"s":"NestFuse","x":0.575,"y":0.891},{"s":"NestFuse","x":0.625,"y":0.903},{"s":"NestFuse","x":0.675,"y":0.903},{"s":"NestFuse","x":0.725,"y":0.915},{"s":"NestFuse","x":0.775,"y":0.92},{"s":"NestFuse","x":0.825,"y":0.925},{"s":"NestFuse","x":0.875,"y":0.928},{"s":"NestFuse","x":0.925,"y":0.943},{"s":"NestFuse","x":0.975,"y":0.961},{"s":"NestFuse","x":1.025,"y":0.967},
{"s":"RFN-Nest","x":0.025,"y":0.823},{"s":"RFN-Nest","x":0.075,"y":0.825},{"s":"RFN-Nest","x":0.125,"y":0.826},{"s":"RFN-Nest","x":0.175,"y":0.827},{"s":"RFN-Nest","x":0.225,"y":0.829},{"s":"RFN-Nest","x":0.275,"y":0.832},{"s":"RFN-Nest","x":0.325,"y":0.833},{"s":"RFN-Nest","x":0.375,"y":0.833},{"s":"RFN-Nest","x":0.425,"y":0.842},{"s":"RFN-Nest","x":0.475,"y":0.845},{"s":"RFN-Nest","x":0.525,"y":0.852},{"s":"RFN-Nest","x":0.575,"y":0.855},{"s":"RFN-Nest","x":0.625,"y":0.86},{"s":"RFN-Nest","x":0.675,"y":0.881},{"s":"RFN-Nest","x":0.725,"y":0.894},{"s":"RFN-Nest","x":0.775,"y":0.9},{"s":"RFN-Nest","x":0.825,"y":0.904},{"s":"RFN-Nest","x":0.875,"y":0.906},{"s":"RFN-Nest","x":0.925,"y":0.913},{"s":"RFN-Nest","x":0.975,"y":0.931},{"s":"RFN-Nest","x":1.025,"y":0.937},
{"s":"SeAFusion","x":0.025,"y":0.828},{"s":"SeAFusion","x":0.075,"y":0.834},{"s":"SeAFusion","x":0.125,"y":0.851},{"s":"SeAFusion","x":0.175,"y":0.852},{"s":"SeAFusion","x":0.225,"y":0.876},{"s":"SeAFusion","x":0.275,"y":0.881},{"s":"SeAFusion","x":0.325,"y":0.881},{"s":"SeAFusion","x":0.375,"y":0.888},{"s":"SeAFusion","x":0.425,"y":0.891},{"s":"SeAFusion","x":0.475,"y":0.894},{"s":"SeAFusion","x":0.525,"y":0.904},{"s":"SeAFusion","x":0.575,"y":0.906},{"s":"SeAFusion","x":0.625,"y":0.915},{"s":"SeAFusion","x":0.675,"y":0.925},{"s":"SeAFusion","x":0.725,"y":0.926},{"s":"SeAFusion","x":0.775,"y":0.929},{"s":"SeAFusion","x":0.825,"y":0.93},{"s":"SeAFusion","x":0.875,"y":0.934},{"s":"SeAFusion","x":0.925,"y":0.943},{"s":"SeAFusion","x":0.975,"y":0.945},{"s":"SeAFusion","x":1.025,"y":0.951},
{"s":"LSF-Net","x":0.025,"y":0.795},{"s":"LSF-Net","x":0.075,"y":0.82},{"s":"LSF-Net","x":0.125,"y":0.823},{"s":"LSF-Net","x":0.175,"y":0.824},{"s":"LSF-Net","x":0.225,"y":0.854},{"s":"LSF-Net","x":0.275,"y":0.86},{"s":"LSF-Net","x":0.325,"y":0.864},{"s":"LSF-Net","x":0.375,"y":0.864},{"s":"LSF-Net","x":0.425,"y":0.868},{"s":"LSF-Net","x":0.475,"y":0.869},{"s":"LSF-Net","x":0.525,"y":0.872},{"s":"LSF-Net","x":0.575,"y":0.875},{"s":"LSF-Net","x":0.625,"y":0.876},{"s":"LSF-Net","x":0.675,"y":0.877},{"s":"LSF-Net","x":0.725,"y":0.88},{"s":"LSF-Net","x":0.775,"y":0.884},{"s":"LSF-Net","x":0.825,"y":0.886},{"s":"LSF-Net","x":0.875,"y":0.906},{"s":"LSF-Net","x":0.925,"y":0.92},{"s":"LSF-Net","x":0.975,"y":0.923},{"s":"LSF-Net","x":1.025,"y":0.929}
],
"VIF":[
{"s":"GTF","x":0.025,"y":0.321},{"s":"GTF","x":0.075,"y":0.393},{"s":"GTF","x":0.125,"y":0.406},{"s":"GTF","x":0.175,"y":0.44},{"s":"GTF","x":0.225,"y":0.451},{"s":"GTF","x":0.275,"y":0.458},{"s":"GTF","x":0.325,"y":0.475},{"s":"GTF","x":0.375,"y":0.485},{"s":"GTF","x":0.425,"y":0.508},{"s":"GTF","x":0.475,"y":0.513},{"s":"GTF","x":0.525,"y":0.518},{"s":"GTF","x":0.575,"y":0.539},{"s":"GTF","x":0.625,"y":0.545},{"s":"GTF","x":0.675,"y":0.555},{"s":"GTF","x":0.725,"y":0.599},{"s":"GTF","x":0.775,"y":0.606},{"s":"GTF","x":0.825,"y":0.626},{"s":"GTF","x":0.875,"y":0.632},{"s":"GTF","x":0.925,"y":0.639},{"s":"GTF","x":0.975,"y":0.641},{"s":"GTF","x":1.025,"y":0.683},
{"s":"MDLatLRR","x":0.025,"y":0.297},{"s":"MDLatLRR","x":0.075,"y":0.319},{"s":"MDLatLRR","x":0.125,"y":0.334},{"s":"MDLatLRR","x":0.175,"y":0.356},{"s":"MDLatLRR","x":0.225,"y":0.361},{"s":"MDLatLRR","x":0.275,"y":0.393},{"s":"MDLatLRR","x":0.325,"y":0.396},{"s":"MDLatLRR","x":0.375,"y":0.426},{"s":"MDLatLRR","x":0.425,"y":0.445},{"s":"MDLatLRR","x":0.475,"y":0.468},{"s":"MDLatLRR","x":0.525,"y":0.473},{"s":"MDLatLRR","x":0.575,"y":0.485},{"s":"MDLatLRR","x":0.625,"y":0.498},{"s":"MDLatLRR","x":0.675,"y":0.505},{"s":"MDLatLRR","x":0.725,"y":0.51},{"s":"MDLatLRR","x":0.775,"y":0.557},{"s":"MDLatLRR","x":0.825,"y":0.569},{"s":"MDLatLRR","x":0.875,"y":0.579},{"s":"MDLatLRR","x":0.925,"y":0.589},{"s":"MDLatLRR","x":0.975,"y":0.594},{"s":"MDLatLRR","x":1.025,"y":0.606},
{"s":"IFCNN","x":0.025,"y":0.485},{"s":"IFCNN","x":0.075,"y":0.495},{"s":"IFCNN","x":0.125,"y":0.607},{"s":"IFCNN","x":0.175,"y":0.632},{"s":"IFCNN","x":0.225,"y":0.647},{"s":"IFCNN","x":0.275,"y":0.651},{"s":"IFCNN","x":0.325,"y":0.668},{"s":"IFCNN","x":0.375,"y":0.691},{"s":"IFCNN","x":0.425,"y":0.709},{"s":"IFCNN","x":0.475,"y":0.735},{"s":"IFCNN","x":0.525,"y":0.743},{"s":"IFCNN","x":0.575,"y":0.755},{"s":"IFCNN","x":0.625,"y":0.787},{"s":"IFCNN","x":0.675,"y":0.787},{"s":"IFCNN","x":0.725,"y":0.815},{"s":"IFCNN","x":0.775,"y":0.815},{"s":"IFCNN","x":0.825,"y":0.837},{"s":"IFCNN","x":0.875,"y":0.849},{"s":"IFCNN","x":0.925,"y":0.884},{"s":"IFCNN","x":0.975,"y":0.894},{"s":"IFCNN","x":1.025,"y":0.912},
{"s":"FusionGAN","x":0.025,"y":0.28},{"s":"FusionGAN","x":0.075,"y":0.319},{"s":"FusionGAN","x":0.125,"y":0.334},{"s":"FusionGAN","x":0.175,"y":0.359},{"s":"FusionGAN","x":0.225,"y":0.376},{"s":"FusionGAN","x":0.275,"y":0.389},{"s":"FusionGAN","x":0.325,"y":0.394},{"s":"FusionGAN","x":0.375,"y":0.414},{"s":"FusionGAN","x":0.425,"y":0.436},{"s":"FusionGAN","x":0.475,"y":0.453},{"s":"FusionGAN","x":0.525,"y":0.461},{"s":"FusionGAN","x":0.575,"y":0.482},{"s":"FusionGAN","x":0.625,"y":0.498},{"s":"FusionGAN","x":0.675,"y":0.502},{"s":"FusionGAN","x":0.725,"y":0.508},{"s":"FusionGAN","x":0.775,"y":0.555},{"s":"FusionGAN","x":0.825,"y":0.572},{"s":"FusionGAN","x":0.875,"y":0.616},{"s":"FusionGAN","x":0.925,"y":0.626},{"s":"FusionGAN","x":0.975,"y":0.683},{"s":"FusionGAN","x":1.025,"y":0.767},
{"s":"U2Fusion","x":0.025,"y":0.314},{"s":"U2Fusion","x":0.075,"y":0.347},{"s":"U2Fusion","x":0.125,"y":0.381},{"s":"U2Fusion","x":0.175,"y":0.421},{"s":"U2Fusion","x":0.225,"y":0.421},{"s":"U2Fusion","x":0.275,"y":0.421},{"s":"U2Fusion","x":0.325,"y":0.424},{"s":"U2Fusion","x":0.375,"y":0.426},{"s":"U2Fusion","x":0.425,"y":0.448},{"s":"U2Fusion","x":0.475,"y":0.47},{"s":"U2Fusion","x":0.525,"y":0.487},{"s":"U2Fusion","x":0.575,"y":0.498},{"s":"U2Fusion","x":0.625,"y":0.498},{"s":"U2Fusion","x":0.675,"y":0.515},{"s":"U2Fusion","x":0.725,"y":0.517},{"s":"U2Fusion","x":0.775,"y":0.544},{"s":"U2Fusion","x":0.825,"y":0.544},{"s":"U2Fusion","x":0.875,"y":0.56},{"s":"U2Fusion","x":0.925,"y":0.564},{"s":"U2Fusion","x":0.975,"y":0.601},{"s":"U2Fusion","x":1.025,"y":0.678},
{"s":"DenseFuse","x":0.025,"y":0.423},{"s":"DenseFuse","x":0.075,"y":0.493},{"s":"DenseFuse","x":0.125,"y":0.505},{"s":"DenseFuse","x":0.175,"y":0.513},{"s":"DenseFuse","x":0.225,"y":0.554},{"s":"DenseFuse","x":0.275,"y":0.587},{"s":"DenseFuse","x":0.325,"y":0.599},{"s":"DenseFuse","x":0.375,"y":0.602},{"s":"DenseFuse","x":0.425,"y":0.607},{"s":"DenseFuse","x":0.475,"y":0.614},{"s":"DenseFuse","x":0.525,"y":0.636},{"s":"DenseFuse","x":0.575,"y":0.669},{"s":"DenseFuse","x":0.625,"y":0.673},{"s":"DenseFuse","x":0.675,"y":0.691},{"s":"DenseFuse","x":0.725,"y":0.696},{"s":"DenseFuse","x":0.775,"y":0.703},{"s":"DenseFuse","x":0.825,"y":0.709},{"s":"DenseFuse","x":0.875,"y":0.725},{"s":"DenseFuse","x":0.925,"y":0.726},{"s":"DenseFuse","x":0.975,"y":0.746},{"s":"DenseFuse","x":1.025,"y":0.787},
{"s":"NestFuse","x":0.025,"y":0.694},{"s":"NestFuse","x":0.075,"y":0.755},{"s":"NestFuse","x":0.125,"y":0.768},{"s":"NestFuse","x":0.175,"y":0.79},{"s":"NestFuse","x":0.225,"y":0.795},{"s":"NestFuse","x":0.275,"y":0.83},{"s":"NestFuse","x":0.325,"y":0.849},{"s":"NestFuse","x":0.375,"y":0.864},{"s":"NestFuse","x":0.425,"y":0.867},{"s":"NestFuse","x":0.475,"y":0.874},{"s":"NestFuse","x":0.525,"y":0.88},{"s":"NestFuse","x":0.575,"y":0.887},{"s":"NestFuse","x":0.625,"y":0.901},{"s":"NestFuse","x":0.675,"y":0.906},{"s":"NestFuse","x":0.725,"y":0.949},{"s":"NestFuse","x":0.775,"y":0.968},{"s":"NestFuse","x":0.825,"y":0.991},{"s":"NestFuse","x":0.875,"y":1.001},{"s":"NestFuse","x":0.925,"y":1.015},{"s":"NestFuse","x":0.975,"y":1.058},{"s":"NestFuse","x":1.025,"y":1.113},
{"s":"RFN-Nest","x":0.025,"y":0.411},{"s":"RFN-Nest","x":0.075,"y":0.428},{"s":"RFN-Nest","x":0.125,"y":0.488},{"s":"RFN-Nest","x":0.175,"y":0.512},{"s":"RFN-Nest","x":0.225,"y":0.518},{"s":"RFN-Nest","x":0.275,"y":0.54},{"s":"RFN-Nest","x":0.325,"y":0.544},{"s":"RFN-Nest","x":0.375,"y":0.544},{"s":"RFN-Nest","x":0.425,"y":0.565},{"s":"RFN-Nest","x":0.475,"y":0.579},{"s":"RFN-Nest","x":0.525,"y":0.589},{"s":"RFN-Nest","x":0.575,"y":0.616},{"s":"RFN-Nest","x":0.625,"y":0.626},{"s":"RFN-Nest","x":0.675,"y":0.626},{"s":"RFN-Nest","x":0.725,"y":0.632},{"s":"RFN-Nest","x":0.775,"y":0.637},{"s":"RFN-Nest","x":0.825,"y":0.637},{"s":"RFN-Nest","x":0.875,"y":0.646},{"s":"RFN-Nest","x":0.925,"y":0.696},{"s":"RFN-Nest","x":0.975,"y":0.698},{"s":"RFN-Nest","x":1.025,"y":0.839},
{"s":"SeAFusion","x":0.025,"y":0.595},{"s":"SeAFusion","x":0.075,"y":0.686},{"s":"SeAFusion","x":0.125,"y":0.699},{"s":"SeAFusion","x":0.175,"y":0.733},{"s":"SeAFusion","x":0.225,"y":0.736},{"s":"SeAFusion","x":0.275,"y":0.773},{"s":"SeAFusion","x":0.325,"y":0.812},{"s":"SeAFusion","x":0.375,"y":0.847},{"s":"SeAFusion","x":0.425,"y":0.854},{"s":"SeAFusion","x":0.475,"y":0.864},{"s":"SeAFusion","x":0.525,"y":0.875},{"s":"SeAFusion","x":0.575,"y":0.884},{"s":"SeAFusion","x":0.625,"y":0.914},{"s":"SeAFusion","x":0.675,"y":0.924},{"s":"SeAFusion","x":0.725,"y":0.941},{"s":"SeAFusion","x":0.775,"y":0.966},{"s":"SeAFusion","x":0.825,"y":0.988},{"s":"SeAFusion","x":0.875,"y":1.07},{"s":"SeAFusion","x":0.925,"y":1.075},{"s":"SeAFusion","x":0.975,"y":1.102},{"s":"SeAFusion","x":1.025,"y":1.281},
{"s":"LSF-Net","x":0.025,"y":0.666},{"s":"LSF-Net","x":0.075,"y":0.715},{"s":"LSF-Net","x":0.125,"y":0.726},{"s":"LSF-Net","x":0.175,"y":0.746},{"s":"LSF-Net","x":0.225,"y":0.778},{"s":"LSF-Net","x":0.275,"y":0.78},{"s":"LSF-Net","x":0.325,"y":0.83},{"s":"LSF-Net","x":0.375,"y":0.835},{"s":"LSF-Net","x":0.425,"y":0.857},{"s":"LSF-Net","x":0.475,"y":0.874},{"s":"LSF-Net","x":0.525,"y":0.901},{"s":"LSF-Net","x":0.575,"y":0.907},{"s":"LSF-Net","x":0.625,"y":0.942},{"s":"LSF-Net","x":0.675,"y":0.944},{"s":"LSF-Net","x":0.725,"y":0.981},{"s":"LSF-Net","x":0.775,"y":0.999},{"s":"LSF-Net","x":0.825,"y":1.031},{"s":"LSF-Net","x":0.875,"y":1.033},{"s":"LSF-Net","x":0.925,"y":1.071},{"s":"LSF-Net","x":0.975,"y":1.212},{"s":"LSF-Net","x":1.025,"y":1.263}
],
"SCD":[
{"s":"GTF","x":0.025,"y":0.549},{"s":"GTF","x":0.075,"y":0.856},{"s":"GTF","x":0.125,"y":0.875},{"s":"GTF","x":0.175,"y":0.9},{"s":"GTF","x":0.225,"y":0.925},{"s":"GTF","x":0.275,"y":0.937},{"s":"GTF","x":0.325,"y":0.948},{"s":"GTF","x":0.375,"y":0.948},{"s":"GTF","x":0.425,"y":0.951},{"s":"GTF","x":0.475,"y":0.976},{"s":"GTF","x":0.525,"y":0.995},{"s":"GTF","x":0.575,"y":1.057},{"s":"GTF","x":0.625,"y":1.082},{"s":"GTF","x":0.675,"y":1.096},{"s":"GTF","x":0.725,"y":1.101},{"s":"GTF","x":0.775,"y":1.104},{"s":"GTF","x":0.825,"y":1.11},{"s":"GTF","x":0.875,"y":1.112},{"s":"GTF","x":0.925,"y":1.112},{"s":"GTF","x":0.975,"y":1.213},{"s":"GTF","x":1.025,"y":1.227},
{"s":"MDLatLRR","x":0.025,"y":0.794},{"s":"MDLatLRR","x":0.075,"y":0.842},{"s":"MDLatLRR","x":0.125,"y":0.953},{"s":"MDLatLRR","x":0.175,"y":0.964},{"s":"MDLatLRR","x":0.225,"y":1.015},{"s":"MDLatLRR","x":0.275,"y":1.023},{"s":"MDLatLRR","x":0.325,"y":1.048},{"s":"MDLatLRR","x":0.375,"y":1.11},{"s":"MDLatLRR","x":0.425,"y":1.129},{"s":"MDLatLRR","x":0.475,"y":1.135},{"s":"MDLatLRR","x":0.525,"y":1.154},{"s":"MDLatLRR","x":0.575,"y":1.154},{"s":"MDLatLRR","x":0.625,"y":1.257},{"s":"MDLatLRR","x":0.675,"y":1.349},{"s":"MDLatLRR","x":0.725,"y":1.4},{"s":"MDLatLRR","x":0.775,"y":1.659},{"s":"MDLatLRR","x":0.825,"y":1.662},{"s":"MDLatLRR","x":0.875,"y":1.678},{"s":"MDLatLRR","x":0.925,"y":1.784},{"s":"MDLatLRR","x":0.975,"y":1.79},{"s":"MDLatLRR","x":1.025,"y":1.812},
{"s":"IFCNN","x":0.025,"y":0.881},{"s":"IFCNN","x":0.075,"y":0.917},{"s":"IFCNN","x":0.125,"y":0.973},{"s":"IFCNN","x":0.175,"y":0.995},{"s":"IFCNN","x":0.225,"y":1.043},{"s":"IFCNN","x":0.275,"y":1.068},{"s":"IFCNN","x":0.325,"y":1.115},{"s":"IFCNN","x":0.375,"y":1.215},{"s":"IFCNN","x":0.425,"y":1.268},{"s":"IFCNN","x":0.475,"y":1.274},{"s":"IFCNN","x":0.525,"y":1.335},{"s":"IFCNN","x":0.575,"y":1.349},{"s":"IFCNN","x":0.625,"y":1.358},{"s":"IFCNN","x":0.675,"y":1.422},{"s":"IFCNN","x":0.725,"y":1.43},{"s":"IFCNN","x":0.775,"y":1.681},{"s":"IFCNN","x":0.825,"y":1.681},{"s":"IFCNN","x":0.875,"y":1.692},{"s":"IFCNN","x":0.925,"y":1.701},{"s":"IFCNN","x":0.975,"y":1.723},{"s":"IFCNN","x":1.025,"y":1.748},
{"s":"FusionGAN","x":0.025,"y":0.334},{"s":"FusionGAN","x":0.075,"y":0.382},{"s":"FusionGAN","x":0.125,"y":0.585},{"s":"FusionGAN","x":0.175,"y":0.585},{"s":"FusionGAN","x":0.225,"y":0.702},{"s":"FusionGAN","x":0.275,"y":0.753},{"s":"FusionGAN","x":0.325,"y":0.766},{"s":"FusionGAN","x":0.375,"y":0.822},{"s":"FusionGAN","x":0.425,"y":0.836},{"s":"FusionGAN","x":0.475,"y":0.87},{"s":"FusionGAN","x":0.525,"y":1.031},{"s":"FusionGAN","x":0.575,"y":1.057},{"s":"FusionGAN","x":0.625,"y":1.098},{"s":"FusionGAN","x":0.675,"y":1.352},{"s":"FusionGAN","x":0.725,"y":1.408},{"s":"FusionGAN","x":0.775,"y":1.561},{"s":"FusionGAN","x":0.825,"y":1.572},{"s":"FusionGAN","x":0.875,"y":1.687},{"s":"FusionGAN","x":0.925,"y":1.692},{"s":"FusionGAN","x":0.975,"y":1.771},{"s":"FusionGAN","x":1.025,"y":1.84},
{"s":"U2Fusion","x":0.025,"y":0.524},{"s":"U2Fusion","x":0.075,"y":0.585},{"s":"U2Fusion","x":0.125,"y":0.591},{"s":"U2Fusion","x":0.175,"y":0.674},{"s":"U2Fusion","x":0.225,"y":0.705},{"s":"U2Fusion","x":0.275,"y":0.747},{"s":"U2Fusion","x":0.325,"y":0.872},{"s":"U2Fusion","x":0.375,"y":0.881},{"s":"U2Fusion","x":0.425,"y":0.895},{"s":"U2Fusion","x":0.475,"y":0.976},{"s":"U2Fusion","x":0.525,"y":0.976},{"s":"U2Fusion","x":0.575,"y":1.004},{"s":"U2Fusion","x":0.625,"y":1.176},{"s":"U2Fusion","x":0.675,"y":1.255},{"s":"U2Fusion","x":0.725,"y":1.257},{"s":"U2Fusion","x":0.775,"y":1.6},{"s":"U2Fusion","x":0.825,"y":1.609},{"s":"U2Fusion","x":0.875,"y":1.645},{"s":"U2Fusion","x":0.925,"y":1.662},{"s":"U2Fusion","x":0.975,"y":1.695},{"s":"U2Fusion","x":1.025,"y":1.695},
{"s":"DenseFuse","x":0.025,"y":1.227},{"s":"DenseFuse","x":0.075,"y":1.327},{"s":"DenseFuse","x":0.125,"y":1.349},{"s":"DenseFuse","x":0.175,"y":1.388},{"s":"DenseFuse","x":0.225,"y":1.413},{"s":"DenseFuse","x":0.275,"y":1.436},{"s":"DenseFuse","x":0.325,"y":1.469},{"s":"DenseFuse","x":0.375,"y":1.539},{"s":"DenseFuse","x":0.425,"y":1.561},{"s":"DenseFuse","x":0.475,"y":1.584},{"s":"DenseFuse","x":0.525,"y":1.6},{"s":"DenseFuse","x":0.575,"y":1.603},{"s":"DenseFuse","x":0.625,"y":1.706},{"s":"DenseFuse","x":0.675,"y":1.734},{"s":"DenseFuse","x":0.725,"y":1.748},{"s":"DenseFuse","x":0.775,"y":1.84},{"s":"DenseFuse","x":0.825,"y":1.846},{"s":"DenseFuse","x":0.875,"y":1.874},{"s":"DenseFuse","x":0.925,"y":1.876},{"s":"DenseFuse","x":0.975,"y":1.888},{"s":"DenseFuse","x":1.025,"y":1.888},
{"s":"NestFuse","x":0.025,"y":1.374},{"s":"NestFuse","x":0.075,"y":1.458},{"s":"NestFuse","x":0.125,"y":1.461},{"s":"NestFuse","x":0.175,"y":1.508},{"s":"NestFuse","x":0.225,"y":1.522},{"s":"NestFuse","x":0.275,"y":1.547},{"s":"NestFuse","x":0.325,"y":1.547},{"s":"NestFuse","x":0.375,"y":1.581},{"s":"NestFuse","x":0.425,"y":1.612},{"s":"NestFuse","x":0.475,"y":1.614},{"s":"NestFuse","x":0.525,"y":1.626},{"s":"NestFuse","x":0.575,"y":1.704},{"s":"NestFuse","x":0.625,"y":1.734},{"s":"NestFuse","x":0.675,"y":1.745},{"s":"NestFuse","x":0.725,"y":1.757},{"s":"NestFuse","x":0.775,"y":1.762},{"s":"NestFuse","x":0.825,"y":1.765},{"s":"NestFuse","x":0.875,"y":1.768},{"s":"NestFuse","x":0.925,"y":1.79},{"s":"NestFuse","x":0.975,"y":1.818},{"s":"NestFuse","x":1.025,"y":1.818},
{"s":"RFN-Nest","x":0.025,"y":1.227},{"s":"RFN-Nest","x":0.075,"y":1.324},{"s":"RFN-Nest","x":0.125,"y":1.333},{"s":"RFN-Nest","x":0.175,"y":1.355},{"s":"RFN-Nest","x":0.225,"y":1.413},{"s":"RFN-Nest","x":0.275,"y":1.433},{"s":"RFN-Nest","x":0.325,"y":1.441},{"s":"RFN-Nest","x":0.375,"y":1.539},{"s":"RFN-Nest","x":0.425,"y":1.589},{"s":"RFN-Nest","x":0.475,"y":1.673},{"s":"RFN-Nest","x":0.525,"y":1.701},{"s":"RFN-Nest","x":0.575,"y":1.715},{"s":"RFN-Nest","x":0.625,"y":1.801},{"s":"RFN-Nest","x":0.675,"y":1.807},{"s":"RFN-Nest","x":0.725,"y":1.807},{"s":"RFN-Nest","x":0.775,"y":1.826},{"s":"RFN-Nest","x":0.825,"y":1.854},{"s":"RFN-Nest","x":0.875,"y":1.854},{"s":"RFN-Nest","x":0.925,"y":1.868},{"s":"RFN-Nest","x":0.975,"y":1.902},{"s":"RFN-Nest","x":1.025,"y":1.924},
{"s":"SeAFusion","x":0.025,"y":0.995},{"s":"SeAFusion","x":0.075,"y":1.199},{"s":"SeAFusion","x":0.125,"y":1.246},{"s":"SeAFusion","x":0.175,"y":1.255},{"s":"SeAFusion","x":0.225,"y":1.26},{"s":"SeAFusion","x":0.275,"y":1.26},{"s":"SeAFusion","x":0.325,"y":1.366},{"s":"SeAFusion","x":0.375,"y":1.405},{"s":"SeAFusion","x":0.425,"y":1.439},{"s":"SeAFusion","x":0.475,"y":1.453},{"s":"SeAFusion","x":0.525,"y":1.645},{"s":"SeAFusion","x":0.575,"y":1.698},{"s":"SeAFusion","x":0.625,"y":1.709},{"s":"SeAFusion","x":0.675,"y":1.709},{"s":"SeAFusion","x":0.725,"y":1.712},{"s":"SeAFusion","x":0.775,"y":1.718},{"s":"SeAFusion","x":0.825,"y":1.72},{"s":"SeAFusion","x":0.875,"y":1.722},{"s":"SeAFusion","x":0.925,"y":1.76},{"s":"SeAFusion","x":0.975,"y":1.77},{"s":"SeAFusion","x":1.025,"y":1.846},
{"s":"LSF-Net","x":0.025,"y":1.33},{"s":"LSF-Net","x":0.075,"y":1.411},{"s":"LSF-Net","x":0.125,"y":1.414},{"s":"LSF-Net","x":0.175,"y":1.433},{"s":"LSF-Net","x":0.225,"y":1.441},{"s":"LSF-Net","x":0.275,"y":1.455},{"s":"LSF-Net","x":0.325,"y":1.461},{"s":"LSF-Net","x":0.375,"y":1.506},{"s":"LSF-Net","x":0.425,"y":1.506},{"s":"LSF-Net","x":0.475,"y":1.525},{"s":"LSF-Net","x":0.525,"y":1.533},{"s":"LSF-Net","x":0.575,"y":1.547},{"s":"LSF-Net","x":0.625,"y":1.581},{"s":"LSF-Net","x":0.675,"y":1.581},{"s":"LSF-Net","x":0.725,"y":1.67},{"s":"LSF-Net","x":0.775,"y":1.687},{"s":"LSF-Net","x":0.825,"y":1.723},{"s":"LSF-Net","x":0.875,"y":1.737},{"s":"LSF-Net","x":0.925,"y":1.784},{"s":"LSF-Net","x":0.975,"y":1.79},{"s":"LSF-Net","x":1.025,"y":1.793}
]
},
"columns":2,
"bounds":"flush",
"align":"each",
"spacing":{"row":112,"column":256},
"resolve":{"scale":{"color":"independent","shape":"independent"}},
"concat":[
{"data":{"name":"EN"},"title":"EN","width":270,"height":238,
"encoding":{"x":{"field":"x","type":"quantitative","scale":{"domain":[0,1.05],"nice":false},"axis":{"values":[0,0.2,0.4,0.6,0.8,1],"format":".1f","title":"Cumulative Distribution"}},
"y":{"field":"y","type":"quantitative","scale":{"domain":[6,8],"nice":false,"zero":false},"axis":{"values":[6,6.2,6.4,6.6,6.8,7,7.2,7.4,7.6,7.8,8],"format":"~g","title":"Values of The Metric"}},
"color":{"field":"s","type":"nominal","scale":{"domain":["GTF","MDLatLRR","IFCNN","FusionGAN","U2Fusion","DenseFuse","NestFuse","RFN-Nest","SeAFusion","LSF-Net"],"range":["#3b2320","#6544a8","#7acb3e","#cc3db4","#eeee22","#55c3da","#2f6b2f","#2b46a3","#b03ab5","#ee2323"]},"legend":{"title":null,"labelExpr":"datum.label + ':' + ({'GTF':'7.4458','MDLatLRR':'6.9501','IFCNN':'7.1369','FusionGAN':'7.1118','U2Fusion':'6.9555','DenseFuse':'7.2675','NestFuse':'7.4417','RFN-Nest':'7.3366','SeAFusion':'7.3590','LSF-Net':'7.4611'})[datum.label]"}}},
"layer":[{"mark":{"type":"line"}},
{"mark":{"type":"point"},"encoding":{"shape":{"field":"s","type":"nominal","scale":{"domain":["GTF","MDLatLRR","IFCNN","FusionGAN","U2Fusion","DenseFuse","NestFuse","RFN-Nest","SeAFusion","LSF-Net"],"range":["square","diamond","triangle-up","M-1,-0.72L-0.72,-1L0,-0.28L0.72,-1L1,-0.72L0.28,0L1,0.72L0.72,1L0,0.28L-0.72,1L-1,0.72L-0.28,0Z","circle","square","cross","triangle-up","M-1,-0.72L-0.72,-1L0,-0.28L0.72,-1L1,-0.72L0.28,0L1,0.72L0.72,1L0,0.28L-0.72,1L-1,0.72L-0.28,0Z","circle"]},"legend":{"title":null,"labelExpr":"datum.label + ':' + ({'GTF':'7.4458','MDLatLRR':'6.9501','IFCNN':'7.1369','FusionGAN':'7.1118','U2Fusion':'6.9555','DenseFuse':'7.2675','NestFuse':'7.4417','RFN-Nest':'7.3366','SeAFusion':'7.3590','LSF-Net':'7.4611'})[datum.label]"}}}}]},
{"data":{"name":"SD"},"title":"SD","width":262,"height":238,
"encoding":{"x":{"field":"x","type":"quantitative","scale":{"domain":[0,1.05],"nice":false},"axis":{"values":[0,0.2,0.4,0.6,0.8,1],"format":".1f","title":"Cumulative Distribution"}},
"y":{"field":"y","type":"quantitative","scale":{"domain":[30,110],"nice":false,"zero":false},"axis":{"values":[30,40,50,60,70,80,90,100,110],"format":"d","title":"Values of The Metric"}},
"color":{"field":"s","type":"nominal","scale":{"domain":["GTF","MDLatLRR","IFCNN","FusionGAN","U2Fusion","DenseFuse","NestFuse","RFN-Nest","SeAFusion","LSF-Net"],"range":["#3b2320","#6544a8","#7acb3e","#cc3db4","#eeee22","#55c3da","#2f6b2f","#2b46a3","#b03ab5","#ee2323"]},"legend":{"title":null,"labelExpr":"datum.label + ':' + ({'GTF':'75.0324','MDLatLRR':'50.5803','IFCNN':'58.7900','FusionGAN':'50.3857','U2Fusion':'48.2608','DenseFuse':'62.7135','NestFuse':'74.0860','RFN-Nest':'66.2510','SeAFusion':'71.5472','LSF-Net':'82.3759'})[datum.label]"}}},
"layer":[{"mark":{"type":"line"}},
{"mark":{"type":"point"},"encoding":{"shape":{"field":"s","type":"nominal","scale":{"domain":["GTF","MDLatLRR","IFCNN","FusionGAN","U2Fusion","DenseFuse","NestFuse","RFN-Nest","SeAFusion","LSF-Net"],"range":["square","diamond","triangle-up","M-1,-0.72L-0.72,-1L0,-0.28L0.72,-1L1,-0.72L0.28,0L1,0.72L0.72,1L0,0.28L-0.72,1L-1,0.72L-0.28,0Z","circle","square","cross","triangle-up","M-1,-0.72L-0.72,-1L0,-0.28L0.72,-1L1,-0.72L0.28,0L1,0.72L0.72,1L0,0.28L-0.72,1L-1,0.72L-0.28,0Z","circle"]},"legend":{"title":null,"labelExpr":"datum.label + ':' + ({'GTF':'75.0324','MDLatLRR':'50.5803','IFCNN':'58.7900','FusionGAN':'50.3857','U2Fusion':'48.2608','DenseFuse':'62.7135','NestFuse':'74.0860','RFN-Nest':'66.2510','SeAFusion':'71.5472','LSF-Net':'82.3759'})[datum.label]"}}}}]},
{"data":{"name":"MI"},"title":"MI","width":266,"height":238,
"encoding":{"x":{"field":"x","type":"quantitative","scale":{"domain":[0,1.05],"nice":false},"axis":{"values":[0,0.2,0.4,0.6,0.8,1],"format":".1f","title":"Cumulative Distribution"}},
"y":{"field":"y","type":"quantitative","scale":{"domain":[12,16],"nice":false,"zero":false},"axis":{"values":[12,13,14,15,16],"format":"d","title":"Values of The Metric"}},
"color":{"field":"s","type":"nominal","scale":{"domain":["GTF","MDLatLRR","IFCNN","FusionGAN","U2Fusion","DenseFuse","NestFuse","RFN-Nest","SeAFusion","LSF-Net"],"range":["#3b2320","#6544a8","#7acb3e","#cc3db4","#eeee22","#55c3da","#2f6b2f","#2b46a3","#b03ab5","#ee2323"]},"legend":{"title":null,"labelExpr":"datum.label + ':' + ({'GTF':'14.9208','MDLatLRR':'13.9012','IFCNN':'14.2737','FusionGAN':'13.8964','U2Fusion':'13.7975','DenseFuse':'14.5359','NestFuse':'14.8834','RFN-Nest':'14.6733','SeAFusion':'14.7181','LSF-Net':'14.9719'})[datum.label]"}}},
"layer":[{"mark":{"type":"line"}},
{"mark":{"type":"point"},"encoding":{"shape":{"field":"s","type":"nominal","scale":{"domain":["GTF","MDLatLRR","IFCNN","FusionGAN","U2Fusion","DenseFuse","NestFuse","RFN-Nest","SeAFusion","LSF-Net"],"range":["square","diamond","triangle-up","M-1,-0.72L-0.72,-1L0,-0.28L0.72,-1L1,-0.72L0.28,0L1,0.72L0.72,1L0,0.28L-0.72,1L-1,0.72L-0.28,0Z","circle","square","cross","triangle-up","M-1,-0.72L-0.72,-1L0,-0.28L0.72,-1L1,-0.72L0.28,0L1,0.72L0.72,1L0,0.28L-0.72,1L-1,0.72L-0.28,0Z","circle"]},"legend":{"title":null,"labelExpr":"datum.label + ':' + ({'GTF':'14.9208','MDLatLRR':'13.9012','IFCNN':'14.2737','FusionGAN':'13.8964','U2Fusion':'13.7975','DenseFuse':'14.5359','NestFuse':'14.8834','RFN-Nest':'14.6733','SeAFusion':'14.7181','LSF-Net':'14.9719'})[datum.label]"}}}}]},
{"data":{"name":"MSSSIM"},"title":"MS-SSIM","width":264,"height":238,
"encoding":{"x":{"field":"x","type":"quantitative","scale":{"domain":[0,1.05],"nice":false},"axis":{"values":[0,0.2,0.4,0.6,0.8,1],"format":".1f","title":"Cumulative Distribution"}},
"y":{"field":"y","type":"quantitative","scale":{"domain":[0.6,1.0],"nice":false,"zero":false},"axis":{"values":[0.6,0.7,0.8,0.9,1.0],"format":".1f","title":"Values of The Metric"}},
"color":{"field":"s","type":"nominal","scale":{"domain":["GTF","MDLatLRR","IFCNN","FusionGAN","U2Fusion","DenseFuse","NestFuse","RFN-Nest","SeAFusion","LSF-Net"],"range":["#3b2320","#6544a8","#7acb3e","#cc3db4","#eeee22","#55c3da","#2f6b2f","#2b46a3","#b03ab5","#ee2323"]},"legend":{"title":null,"labelExpr":"datum.label + ':' + ({'GTF':'0.8030','MDLatLRR':'0.8990','IFCNN':'0.9101','FusionGAN':'0.8768','U2Fusion':'0.8961','DenseFuse':'0.9238','NestFuse':'0.8834','RFN-Nest':'0.8649','SeAFusion':'0.8970','LSF-Net':'0.8704'})[datum.label]"}}},
"layer":[{"mark":{"type":"line"}},
{"mark":{"type":"point"},"encoding":{"shape":{"field":"s","type":"nominal","scale":{"domain":["GTF","MDLatLRR","IFCNN","FusionGAN","U2Fusion","DenseFuse","NestFuse","RFN-Nest","SeAFusion","LSF-Net"],"range":["square","diamond","triangle-up","M-1,-0.72L-0.72,-1L0,-0.28L0.72,-1L1,-0.72L0.28,0L1,0.72L0.72,1L0,0.28L-0.72,1L-1,0.72L-0.28,0Z","circle","square","cross","triangle-up","M-1,-0.72L-0.72,-1L0,-0.28L0.72,-1L1,-0.72L0.28,0L1,0.72L0.72,1L0,0.28L-0.72,1L-1,0.72L-0.28,0Z","circle"]},"legend":{"title":null,"labelExpr":"datum.label + ':' + ({'GTF':'0.8030','MDLatLRR':'0.8990','IFCNN':'0.9101','FusionGAN':'0.8768','U2Fusion':'0.8961','DenseFuse':'0.9238','NestFuse':'0.8834','RFN-Nest':'0.8649','SeAFusion':'0.8970','LSF-Net':'0.8704'})[datum.label]"}}}}]},
{"data":{"name":"VIF"},"title":"VIF","width":268,"height":238,
"encoding":{"x":{"field":"x","type":"quantitative","scale":{"domain":[0,1.05],"nice":false},"axis":{"values":[0,0.2,0.4,0.6,0.8,1],"format":".1f","title":"Cumulative Distribution"}},
"y":{"field":"y","type":"quantitative","scale":{"domain":[0.2,1.4],"nice":false,"zero":false},"axis":{"values":[0.2,0.4,0.6,0.8,1.0,1.2,1.4],"format":".1f","title":"Values of The Metric"}},
"color":{"field":"s","type":"nominal","scale":{"domain":["GTF","MDLatLRR","IFCNN","FusionGAN","U2Fusion","DenseFuse","NestFuse","RFN-Nest","SeAFusion","LSF-Net"],"range":["#3b2320","#6544a8","#7acb3e","#cc3db4","#eeee22","#55c3da","#2f6b2f","#2b46a3","#b03ab5","#ee2323"]},"legend":{"title":null,"labelExpr":"datum.label + ':' + ({'GTF':'0.5246','MDLatLRR':'0.4695','IFCNN':'0.7329','FusionGAN':'0.4781','U2Fusion':'0.4809','DenseFuse':'0.6312','NestFuse':'0.8912','RFN-Nest':'0.5902','SeAFusion':'0.8869','LSF-Net':'0.9090'})[datum.label]"}}},
"layer":[{"mark":{"type":"line"}},
{"mark":{"type":"point"},"encoding":{"shape":{"field":"s","type":"nominal","scale":{"domain":["GTF","MDLatLRR","IFCNN","FusionGAN","U2Fusion","DenseFuse","NestFuse","RFN-Nest","SeAFusion","LSF-Net"],"range":["square","diamond","triangle-up","M-1,-0.72L-0.72,-1L0,-0.28L0.72,-1L1,-0.72L0.28,0L1,0.72L0.72,1L0,0.28L-0.72,1L-1,0.72L-0.28,0Z","circle","square","cross","triangle-up","M-1,-0.72L-0.72,-1L0,-0.28L0.72,-1L1,-0.72L0.28,0L1,0.72L0.72,1L0,0.28L-0.72,1L-1,0.72L-0.28,0Z","circle"]},"legend":{"title":null,"labelExpr":"datum.label + ':' + ({'GTF':'0.5246','MDLatLRR':'0.4695','IFCNN':'0.7329','FusionGAN':'0.4781','U2Fusion':'0.4809','DenseFuse':'0.6312','NestFuse':'0.8912','RFN-Nest':'0.5902','SeAFusion':'0.8869','LSF-Net':'0.9090'})[datum.label]"}}}}]},
{"data":{"name":"SCD"},"title":"SCD","width":266,"height":238,
"encoding":{"x":{"field":"x","type":"quantitative","scale":{"domain":[0,1.05],"nice":false},"axis":{"values":[0,0.2,0.4,0.6,0.8,1],"format":".1f","title":"Cumulative Distribution"}},
"y":{"field":"y","type":"quantitative","scale":{"domain":[0.2,2.2],"nice":false,"zero":false},"axis":{"values":[0.2,0.4,0.6,0.8,1.0,1.2,1.4,1.6,1.8,2.0,2.2],"format":".1f","title":"Values of The Metric"}},
"color":{"field":"s","type":"nominal","scale":{"domain":["GTF","MDLatLRR","IFCNN","FusionGAN","U2Fusion","DenseFuse","NestFuse","RFN-Nest","SeAFusion","LSF-Net"],"range":["#3b2320","#6544a8","#7acb3e","#cc3db4","#eeee22","#55c3da","#2f6b2f","#2b46a3","#b03ab5","#ee2323"]},"legend":{"title":null,"labelExpr":"datum.label + ':' + ({'GTF':'1.0011','MDLatLRR':'1.2625','IFCNN':'1.3293','FusionGAN':'1.0773','U2Fusion':'1.0971','DenseFuse':'1.6136','NestFuse':'1.6369','RFN-Nest':'1.6387','SeAFusion':'1.5209','LSF-Net':'1.5684'})[datum.label]"}}},
"layer":[{"mark":{"type":"line"}},
{"mark":{"type":"point"},"encoding":{"shape":{"field":"s","type":"nominal","scale":{"domain":["GTF","MDLatLRR","IFCNN","FusionGAN","U2Fusion","DenseFuse","NestFuse","RFN-Nest","SeAFusion","LSF-Net"],"range":["square","diamond","triangle-up","M-1,-0.72L-0.72,-1L0,-0.28L0.72,-1L1,-0.72L0.28,0L1,0.72L0.72,1L0,0.28L-0.72,1L-1,0.72L-0.28,0Z","circle","square","cross","triangle-up","M-1,-0.72L-0.72,-1L0,-0.28L0.72,-1L1,-0.72L0.28,0L1,0.72L0.72,1L0,0.28L-0.72,1L-1,0.72L-0.28,0Z","circle"]},"legend":{"title":null,"labelExpr":"datum.label + ':' + ({'GTF':'1.0011','MDLatLRR':'1.2625','IFCNN':'1.3293','FusionGAN':'1.0773','U2Fusion':'1.0971','DenseFuse':'1.6136','NestFuse':'1.6369','RFN-Nest':'1.6387','SeAFusion':'1.5209','LSF-Net':'1.5684'})[datum.label]"}}}}]}
],
"title":{"text":["Figure 6. Twenty-one pairs of images from the RoadScene dataset were compared quantitatively on","six metrics, namely, EN, SD, MI, SSIM, VIF, and SCD. The point on the curve (x, y) indicates that","there are (100 × x)% of image pairs with metric values not exceeding y."],"orient":"bottom","anchor":"start","frame":"bounds","font":"Liberation Serif","fontSize":26,"fontWeight":"normal","color":"#1e1e1e","lineHeight":33,"offset":62,"dx":-29},
"config":{
"font":"Open Sans",
"view":{"stroke":"#a0a0a0","strokeWidth":1},
"axis":{"grid":false,"labelFont":"Open Sans","labelFontSize":11,"labelColor":"#595959","titleFont":"Open Sans","titleFontSize":12,"titleFontWeight":"normal","titleColor":"#595959","domainColor":"#a0a0a0","tickColor":"#a0a0a0","tickSize":5,"labelPadding":3},
"axisX":{"titlePadding":12},
"axisY":{"titlePadding":6},
"legend":{"orient":"right","offset":12,"padding":12,"rowPadding":11,"symbolSize":40,"labelFont":"Open Sans","labelFontSize":11,"labelColor":"#404040","labelOffset":14,"symbolStrokeWidth":0},
"title":{"font":"Open Sans","fontSize":15,"fontWeight":"normal","color":"#555555","offset":9},
"point":{"filled":true,"size":55,"opacity":1},
"line":{"strokeWidth":1,"opacity":0.6}
}
}
